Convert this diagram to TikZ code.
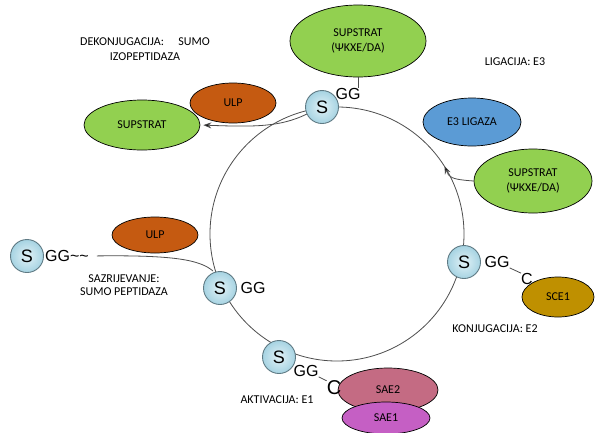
\documentclass[tikz,border=0pt]{standalone}
\usepackage{fontspec}
\setmainfont{Carlito}
\newfontfamily\arialf{Liberation Sans}
\usetikzlibrary{shapes.geometric,arrows.meta}
\definecolor{supgreen}{HTML}{92D050}
\definecolor{ulporange}{HTML}{C55A11}
\definecolor{e3blue}{HTML}{5B9BD5}
\definecolor{sceyellow}{HTML}{BF9000}
\definecolor{saetwo}{HTML}{C46B83}
\definecolor{saeone}{HTML}{C55FC4}
\definecolor{sinner}{HTML}{E2F2F7}
\definecolor{souter}{HTML}{A6D3E2}
\definecolor{sedge}{HTML}{5F7A84}
\definecolor{ringcol}{HTML}{4D4D4D}
\begin{document}
\begin{tikzpicture}[x=1pt,y=-1pt,
  blob/.style={ellipse, draw=black, line width=0.7pt, inner sep=0pt, align=center,
    font=\fontsize{12}{15}\selectfont},
  sball/.style={circle, draw=sedge, line width=0.9pt, minimum size=33pt, inner sep=0pt,
    shading=radial, inner color=sinner, outer color=souter,
    font=\arialf\fontsize{18}{18}\selectfont},
  gg/.style={inner sep=0pt, font=\arialf\fontsize{16}{16}\selectfont},
  bigc/.style={inner sep=0pt, font=\arialf\fontsize{20}{20}\selectfont},
  lbl/.style={inner sep=0pt, align=center, font=\fontsize{12}{15}\selectfont},
  link/.style={draw=ringcol, line width=0.8pt},
  tip/.style={-{Stealth[length=8pt,width=6pt,fill=black]}}
]
\useasboundingbox (0,0) rectangle (595,432);
\fill[white] (0,0) rectangle (595,432);

% ring
\coordinate (ringc) at (337,234);
\draw[link] (ringc) circle[radius=127pt];

% ellipses
\node[blob, fill=supgreen, minimum width=136pt, minimum height=72pt] (sup0) at (358,41) {SUPSTRAT\\(ΨKXE/DA)};
\node[blob, fill=supgreen, minimum width=116pt, minimum height=50pt] (sup1) at (142,125) {SUPSTRAT};
\node[blob, fill=supgreen, minimum width=118pt, minimum height=64pt] (sup2) at (533,181) {SUPSTRAT\\(ΨKXE/DA)};
\node[blob, fill=ulporange, minimum width=86pt, minimum height=40pt] (ulp1) at (233,103) {ULP};
\node[blob, fill=ulporange, minimum width=86pt, minimum height=36pt] (ulp2) at (155,235) {ULP};
\node[blob, fill=e3blue, minimum width=98pt, minimum height=48pt] (e3) at (472,122) {E3 LIGAZA};
\node[blob, fill=sceyellow, minimum width=72pt, minimum height=40pt] (sce) at (558,297) {SCE1};
\node[blob, fill=saetwo, minimum width=100pt, minimum height=44pt] (sae2) at (388,390) {SAE2};
\node[blob, fill=saeone, minimum width=88pt, minimum height=32pt] (sae1) at (386,418) {SAE1};

% SUMO balls
\node[sball] (s1) at (322,107) {S};
\node[sball] (s2) at (220,288) {S};
\node[sball] (s3) at (279,357) {S};
\node[sball] (s4) at (464,262) {S};
\node[sball] (s5) at (27,256) {S};

% GG tails and C
\node[gg] (g1) at (348,94) {GG};
\node[gg] (g2) at (253,288) {GG};
\node[gg] (g3) at (306,371) {GG};
\node[gg] (g4) at (497,262) {GG};
\node[gg, anchor=west] (g5) at (45,256) {GG\textasciitilde\textasciitilde};
\node[bigc] (c3) at (334,388) {C};
\node[gg] (c4) at (527,279) {C};

% connectors
\draw[link] (sup0.south) -- (sup0.south |- g1.north);
\draw[link] (g3.south east) -- (c3.north west);
\draw[link] (g4.south east) -- (c4.north west);
\coordinate (j5) at (213,271);
\draw[link, shorten <=8pt] (g5.east) .. controls (175,255) and (200,260) .. (j5);
\draw[link, tip, shorten >=3pt] (s1.205) .. controls (280,127) and (255,127) .. (sup1.east);
\coordinate (a1) at (448.5,175);
\coordinate (a2) at (444.5,166);
\draw[link] (sup2.west) .. controls (460,180) and (452,179) .. (a1);
\draw[link, tip] (a1) -- (a2);

% labels
\node[lbl] (t1) at (145,49) {DEKONJUGACIJA:\hspace{1.2em}SUMO\\IZOPEPTIDAZA};
\node[lbl] (t2) at (515,62) {LIGACIJA: E3};
\node[lbl, font=\fontsize{12}{13}\selectfont] (t3) at (124,285) {SAZRIJEVANJE:\\SUMO PEPTIDAZA};
\node[lbl] (t4) at (495,329) {KONJUGACIJA: E2};
\node[lbl] (t5) at (277,400) {AKTIVACIJA: E1};
\end{tikzpicture}
\end{document}
